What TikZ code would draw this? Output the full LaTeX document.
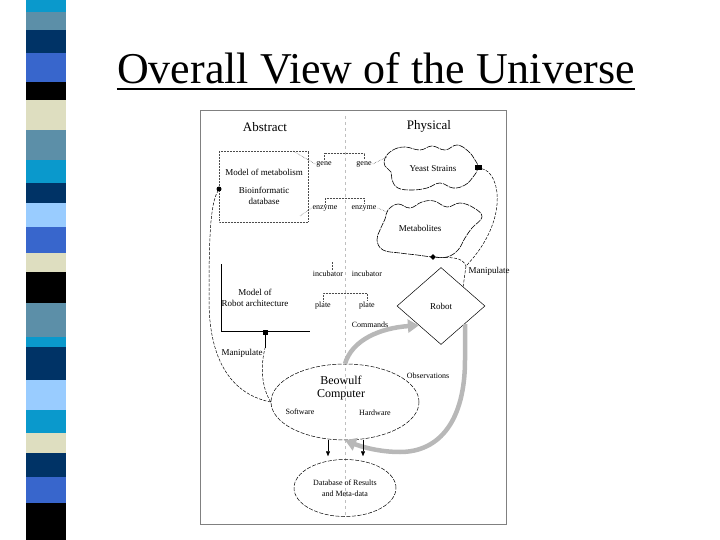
\documentclass[tikz,border=0pt]{standalone}
\usepackage{fontspec}
\setmainfont{Liberation Serif}
\usetikzlibrary{shapes.geometric,arrows.meta}
\definecolor{stcyan}{HTML}{0A99CC}
\definecolor{ststeel}{HTML}{5C8FA8}
\definecolor{stnavy}{HTML}{003366}
\definecolor{stroyal}{HTML}{3866CC}
\definecolor{stlight}{HTML}{99CCFF}
\definecolor{stbeige}{HTML}{DEDEC0}

\begin{document}
\begin{tikzpicture}
  [x=1pt,y=-1pt,
   lbl/.style={font=\fontsize{9}{10.5}\selectfont,inner sep=1pt,align=center},
   sml/.style={font=\fontsize{8}{9}\selectfont,inner sep=1pt},
   head/.style={font=\fontsize{13}{15}\selectfont},
   conn/.style={line width=.5pt,dash pattern=on 3pt off 1.5pt},
   dotl/.style={line width=.5pt,densely dotted,black!70},
   blob/.style={line width=.6pt,dash pattern=on 6pt off 1pt},
   oval/.style={ellipse,draw,line width=.5pt,dash pattern=on 4pt off 1.5pt,inner sep=0pt},
   sq/.style={fill,inner sep=0pt,minimum size=5pt},
   greyarr/.style={line width=4.5pt,black!28,-{Triangle[length=11pt,width=13pt]}},
   smallarr/.style={line width=.5pt,-{Triangle[length=5pt,width=4pt]}}]
  \useasboundingbox (0,0) rectangle (720,540);

  \foreach \ya/\yb/\c in {0/12/stcyan,12/30/ststeel,30/53/stnavy,53/82/stroyal,
    82/100/black,100/130/stbeige,130/160/ststeel,160/183/stcyan,183/203/stnavy,
    203/227/stlight,227/253/stroyal,253/272/stbeige,272/303/black,303/337/ststeel,
    337/347/stcyan,347/380/stnavy,380/410/stlight,410/433/stcyan,433/453/stbeige,
    453/477/stnavy,477/503/stroyal,503/540/black}
    \fill[\c] (26,\ya) rectangle (66,\yb);

  \node[font=\fontsize{44}{48}\selectfont,inner sep=0pt,anchor=base] (title) at (376,84) {Overall View of the Universe};
  \draw[line width=2.5pt] ([yshift=-5pt]title.base west) -- ([yshift=-5pt]title.base east);

  \draw[black!50,line width=.8pt] (200,110) rectangle (506,524);
  \draw[black!25,line width=.5pt,dash pattern=on 3pt off 3pt] (345,116) -- (345,518);

  \node[head] (abstract) at (265,127) {Abstract};
  \node[head] (physical) at (429,126) {Physical};

  \draw[dotl] (219,151) rectangle (308,222);
  \node[lbl] (metmodel) at (264,172) {Model of metabolism};
  \node[lbl] (bioinf) at (264,196) {Bioinformatic\\database};
  \node[circle,fill,inner sep=0pt,minimum size=5pt] (modeldot) at (219,189) {};

  \node[sml] (geneA) at (324,164) {gene};
  \node[sml] (geneP) at (364,164) {gene};
  \node[sml] (enzA) at (325,208) {enzyme};
  \node[sml] (enzP) at (364,208) {enzyme};
  \node[sml] (incA) at (328,274) {incubator};
  \node[sml] (incP) at (367,274) {incubator};
  \node[sml] (plateA) at (323,306) {plate};
  \node[sml] (plateP) at (367,306) {plate};
  \node[sml] (commands) at (370,325) {Commands};
  \node[sml] (observ) at (428,376) {Observations};

  \draw[dotl] (geneA.north) -- ++(0,-7) -| (geneP.north);
  \draw[dotl] (enzA.north) -- ++(0,-6) -| (enzP.north);
  \draw[dotl] (plateA.north) -- ++(0,-8) -| (plateP.north);
  \draw[dotl] ([xshift=4pt]incA.north) -- ++(0,-9);
  \draw[dotl] (293,151) -- (geneA.west);
  \draw[dotl] (300,216) -- (enzA.west);

  \draw[line width=.5pt] (221,264) |- (310,331);
  \node[lbl] (robmodel) at (255,298) {Model of\\Robot architecture};
  \node[sq] (robsq) at (265,332) {};

  \draw[blob] plot[smooth cycle,tension=.7] coordinates {(385,158) (393,150) (405,147)
    (420,150) (432,146) (445,150) (457,145) (468,151) (475,160) (478,168) (473,177)
    (465,185) (453,188) (440,183) (427,188) (412,190) (398,188) (392,180) (391,172) (385,166)};
  \draw[blob] plot[smooth cycle,tension=.7] coordinates {(388,210) (398,204) (410,208)
    (422,202) (434,201) (447,207) (460,203) (474,208) (482,217) (472,228) (465,238)
    (458,250) (447,257) (433,257) (417,255) (400,253) (383,250) (377,240) (380,230) (385,219)};
  \node[lbl] (yeast) at (433,169) {Yeast Strains};
  \node[lbl] (metab) at (420,228) {Metabolites};
  \coordinate (yeastw) at (387,157);
  \coordinate (metabw) at (387,212);
  \node[sq,minimum width=7pt] (yeastsq) at (478,168) {};
  \node[diamond,fill,inner sep=0pt,minimum size=6pt] (metdot) at (433,257) {};
  \draw[dotl] (geneP.east) -- (yeastw);
  \draw[dotl] (enzP.east) -- (metabw);

  \node[diamond,draw,line width=.5pt,inner sep=0pt,minimum width=88pt,minimum height=77pt,
    font=\fontsize{9}{10.5}\selectfont] (robot) at (441,306) {Robot};

  \node[oval,minimum width=148pt,minimum height=76pt] (beo) at (345,402) {};
  \node[lbl,font=\fontsize{12}{13.5}\selectfont] (beotext) at (341,388) {Beowulf\\Computer};
  \node[sml] (software) at (300,412) {Software};
  \node[sml] (hardware) at (375,413) {Hardware};

  \node[oval,minimum width=102pt,minimum height=57pt,align=center,
    font=\fontsize{8}{11}\selectfont] (db) at (345,488) {Database of Results\\and Meta-data};

  \coordinate (mleft) at (265,348);
  \coordinate (mright) at (466,266);
  \node[lbl] (manleft) at (242,353) {Manipulate};
  \node[lbl] (manright) at (489,271) {Manipulate};
  \draw[conn] (beo.west) .. controls (235,395) and (209,365) .. (209,300)
    .. controls (209,240) and (210,205) .. (modeldot);
  \draw[conn] (beo.west) .. controls (262,388) and (260,368) .. (mleft);
  \draw[line width=.5pt] (mleft) -- (robsq);
  \draw[conn] (yeastsq) .. controls (500,172) and (510,220) .. (mright);
  \draw[conn] (metdot) .. controls (450,258) and (462,256) .. (mright);
  \draw[conn] (mright) -- (robot.north east);

  \draw[greyarr] (beo.north) .. controls (352,340) and (380,328) .. (robot.south west);
  \coordinate (obsfrom) at (465,324);
  \draw[greyarr] (obsfrom) -- (465,360) .. controls (465,420) and (440,452) .. (400,452)
    .. controls (380,452) and (362,447) .. (beo.south);

  \draw[smallarr] ([xshift=-17pt]beo.south) -- ([xshift=-17pt,yshift=3pt]db.north);
  \draw[smallarr] ([xshift=18pt]beo.south) -- ([xshift=18pt,yshift=3pt]db.north);
\end{tikzpicture}
\end{document}
